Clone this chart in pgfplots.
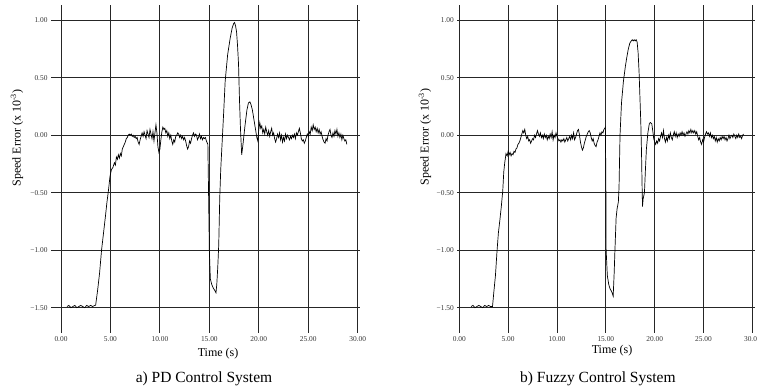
\documentclass[border=0pt]{standalone}
\usepackage{fontspec}
\setmainfont{Liberation Serif}
\usepackage{pgfplots}
\pgfplotsset{compat=1.18}
\pgfplotsset{
  speedaxis/.style={
    anchor=south west,
    y=115pt,
    xmin=0, xmax=30.25, ymin=-1.72, ymax=1.13,
    axis line style={draw=none},
    grid=major,
    major grid style={black!85, line width=0.9pt},
    xtick={0,5,10,15,20,25,30},
    xticklabels={0.00,5.00,10.00,15.00,20.00,25.00,30.00},
    ytick={-1.5,-1,-0.5,0,0.5,1},
    yticklabels={−1.50,−1.00,−0.50,0.00,0.50,1.00},
    xtick style={draw=none},
    ytick pos=left,
    tick align=outside,
    ytick style={black!85, line width=0.9pt},
    tick label style={font=\fontsize{7.4}{8}\selectfont, text=black!80},
    label style={font=\fontsize{12}{14}\selectfont},
    ylabel={Speed Error (x 10\textsuperscript{-3})},
    xlabel={Time (s)},
    clip=false,
  }
}
\begin{document}
\begin{tikzpicture}
\begin{axis}[speedaxis,
  at={(61pt,57pt)}, x=9.89pt,
  major tick length=10pt,
  xticklabel style={yshift=10pt},
  xlabel style={at={(axis description cs:0.525,-0.072)}, anchor=base},
  ylabel style={at={(axis description cs:-0.147,0.595)}, anchor=center, rotate=0},
]
\addplot[black, line width=0.7pt] coordinates {
(0.6,-1.49) (0.8,-1.48) (1.0,-1.50) (1.2,-1.49) (1.4,-1.48) (1.6,-1.50) (1.8,-1.49) (2.0,-1.48) (2.2,-1.49) (2.4,-1.50) (2.6,-1.48) (2.8,-1.49) (3.0,-1.48) (3.2,-1.49) (3.4,-1.48) (3.5,-1.48)
(3.7,-1.35) (3.9,-1.2) (4.1,-1.0) (4.3,-0.85) (4.5,-0.70) (4.65,-0.58) (4.8,-0.48) (4.95,-0.36) (5.1,-0.30) (5.25,-0.28) (5.4,-0.24) (5.5,-0.26) (5.6,-0.19) (5.7,-0.21) (5.8,-0.17) (5.9,-0.20) (6.0,-0.16) (6.1,-0.18) (6.2,-0.12) (6.3,-0.10) (6.4,-0.08) (6.5,-0.06) (6.6,-0.03) (6.7,-0.02) (6.8,0.00)
(6.9,0.01) (7.0,0.00) (7.1,0.01) (7.2,-0.01) (7.3,0.00) (7.4,-0.02) (7.5,-0.01) (7.6,-0.03) (7.7,-0.02) (7.8,-0.06) (7.9,-0.08) (8.0,-0.04) (8.1,-0.01) (8.2,0.02) (8.3,-0.01) (8.4,0.03) (8.5,0.00) (8.6,-0.03) (8.7,0.04) (8.8,0.01) (8.9,-0.02) (9.0,0.05) (9.1,0.01) (9.2,-0.03) (9.3,0.03) (9.4,-0.05) (9.5,0.02) (9.6,0.09) (9.7,0.02) (9.8,-0.10) (9.9,-0.15) (10.0,-0.12) (10.1,-0.04) (10.2,0.03) (10.3,0.07) (10.4,0.05) (10.5,0.06) (10.6,0.02) (10.7,0.04) (10.8,-0.01) (10.9,0.02) (11.0,-0.03) (11.1,0.00) (11.2,-0.05) (11.3,-0.08) (11.4,-0.04) (11.5,-0.06) (11.6,-0.01) (11.7,0.00) (11.8,0.02) (11.9,0.01) (12.0,-0.02) (12.1,0.00) (12.2,-0.03) (12.3,-0.01) (12.4,-0.04) (12.5,-0.02) (12.6,-0.05) (12.7,-0.09) (12.8,-0.12) (12.9,-0.10) (13.0,-0.05) (13.1,-0.07) (13.2,-0.03) (13.3,0.00) (13.4,0.02) (13.5,-0.01) (13.6,0.01) (13.7,0.00) (13.8,-0.04) (13.9,-0.02) (14.0,0.01) (14.1,-0.03) (14.2,-0.01) (14.3,-0.04) (14.4,-0.02) (14.5,-0.03) (14.6,-0.02) (14.7,-0.05) (14.85,-0.08)
(14.92,-0.5) (15.0,-1.0) (15.1,-1.25) (15.25,-1.30) (15.4,-1.33) (15.55,-1.35) (15.67,-1.37) (15.75,-1.30) (15.85,-1.15) (15.95,-0.95) (16.05,-0.55) (16.15,-0.3) (16.3,-0.05) (16.45,0.2) (16.6,0.47) (16.85,0.70) (17.1,0.84) (17.3,0.93) (17.45,0.97) (17.55,0.98) (17.65,0.95) (17.75,0.90) (17.85,0.78) (17.95,0.62) (18.05,0.30) (18.15,0.05) (18.27,-0.17) (18.4,-0.08) (18.6,0.08) (18.8,0.22) (18.95,0.28) (19.1,0.29) (19.2,0.27) (19.35,0.22) (19.5,0.14) (19.65,0.06) (19.8,-0.02) (19.9,-0.05) (20.0,0.05) (20.1,0.11) (20.2,0.06) (20.3,0.08)
(20.4,0.02) (20.5,0.05) (20.6,0.01) (20.7,0.07) (20.8,0.03) (20.9,0.00) (21.0,0.04) (21.1,-0.01) (21.2,0.03) (21.3,0.06) (21.4,0.00) (21.5,0.02) (21.6,-0.03) (21.7,-0.06) (21.8,-0.03) (21.9,0.01) (22.0,-0.02) (22.1,0.02) (22.2,-0.04) (22.3,0.00) (22.4,-0.06) (22.5,-0.02) (22.6,-0.05) (22.7,0.01) (22.8,-0.03) (22.9,0.00) (23.0,-0.02) (23.1,-0.04) (23.2,-0.01) (23.3,-0.03) (23.4,0.00) (23.5,-0.02) (23.6,0.01) (23.7,-0.03) (23.8,0.02) (23.9,0.00) (24.0,0.03) (24.1,0.06) (24.2,0.02) (24.3,-0.03) (24.4,-0.05) (24.5,-0.04) (24.6,-0.07) (24.7,-0.05) (24.8,-0.02) (24.9,0.01) (25.0,-0.01) (25.1,0.03) (25.2,0.01) (25.3,0.07) (25.4,0.04) (25.5,0.09) (25.6,0.05) (25.7,0.07) (25.8,0.03) (25.9,0.06) (26.0,0.02) (26.1,0.05) (26.2,0.01) (26.3,0.03) (26.4,-0.01) (26.5,-0.04) (26.6,-0.06) (26.7,-0.07) (26.8,-0.03) (26.9,-0.05) (27.0,0.00) (27.1,0.03) (27.2,0.05) (27.3,0.00) (27.4,-0.02) (27.5,0.02) (27.6,-0.01) (27.7,0.04) (27.8,0.01) (27.9,0.05) (28.0,-0.01) (28.1,0.02) (28.2,-0.02) (28.3,0.01) (28.4,-0.04) (28.5,0.00) (28.6,-0.03) (28.7,-0.05) (28.8,-0.04) (28.9,-0.08)
};
\node[anchor=base, font=\fontsize{15.5}{18}\selectfont] at (axis description cs:0.478,-0.152) {a) PD Control System};
\end{axis}
\begin{axis}[speedaxis,
  at={(459.3pt,57pt)}, x=9.77pt,
  major tick length=2pt,
  xticklabel style={yshift=2pt},
  xlabel style={at={(axis description cs:0.517,-0.062)}, anchor=base},
  ylabel style={at={(axis description cs:-0.116,0.598)}, anchor=center, rotate=0},
]
\addplot[black, line width=0.7pt] coordinates {
(1.2,-1.49) (1.4,-1.48) (1.6,-1.50) (1.8,-1.49) (2.0,-1.48) (2.2,-1.49) (2.4,-1.50) (2.6,-1.48) (2.8,-1.49) (3.0,-1.48) (3.2,-1.49) (3.4,-1.49)
(3.55,-1.35) (3.7,-1.22) (3.85,-1.02) (4.0,-0.85) (4.15,-0.74) (4.3,-0.62) (4.45,-0.48) (4.55,-0.32) (4.65,-0.24) (4.78,-0.16) (4.9,-0.18) (5.0,-0.14) (5.1,-0.17) (5.2,-0.15) (5.3,-0.18) (5.4,-0.16) (5.5,-0.17) (5.6,-0.14) (5.7,-0.15) (5.8,-0.12) (5.9,-0.11) (6.0,-0.08) (6.1,-0.07) (6.2,-0.05) (6.3,-0.02) (6.4,0.01) (6.5,0.04) (6.6,0.02) (6.7,0.05) (6.8,0.00) (6.9,-0.03) (7.0,-0.01) (7.1,-0.05) (7.2,-0.04) (7.3,-0.07) (7.4,-0.05) (7.5,-0.03) (7.6,-0.04) (7.7,0.00) (7.8,-0.02) (7.9,0.01) (8.0,0.04) (8.1,0.01) (8.2,-0.01) (8.3,0.02) (8.4,-0.02) (8.5,0.00) (8.6,-0.03) (8.7,0.01) (8.8,-0.02) (8.9,0.00) (9.0,-0.04) (9.1,-0.01) (9.2,-0.03) (9.3,0.01) (9.4,-0.02) (9.5,0.03) (9.6,-0.04) (9.7,0.00) (9.8,-0.02) (9.9,0.02) (10.0,-0.01) (10.1,-0.03) (10.2,-0.05) (10.3,-0.04) (10.4,-0.06) (10.5,-0.04) (10.6,-0.05) (10.7,-0.03) (10.8,-0.06) (10.9,-0.04) (11.0,-0.02) (11.1,-0.05) (11.2,-0.03) (11.3,-0.01) (11.4,-0.04) (11.5,0.00) (11.6,-0.03) (11.7,0.02) (11.8,-0.04) (11.9,-0.02) (12.0,0.01) (12.1,0.04) (12.2,0.05) (12.3,0.00) (12.4,-0.06) (12.5,-0.10) (12.6,-0.13) (12.7,-0.11) (12.8,-0.07) (12.9,-0.04) (13.0,-0.01) (13.1,0.01) (13.2,0.03) (13.3,0.04) (13.4,0.02) (13.5,-0.02) (13.6,-0.05) (13.7,-0.03) (13.8,-0.07) (13.9,-0.09) (14.0,-0.10) (14.1,-0.06) (14.2,-0.04) (14.3,-0.01) (14.4,0.02) (14.5,0.00) (14.6,0.03) (14.7,0.02) (14.8,0.05) (14.9,0.06) (14.95,0.07)
(15.0,-0.4) (15.03,-1.0) (15.15,-1.22) (15.3,-1.30) (15.45,-1.34) (15.6,-1.36) (15.75,-1.40) (15.85,-1.20) (15.93,-1.0) (16.05,-0.72) (16.15,-0.64) (16.28,-0.58) (16.35,-0.45) (16.45,0.0) (16.6,0.28) (16.8,0.47) (17.0,0.60) (17.15,0.68) (17.3,0.75) (17.45,0.80) (17.6,0.82) (17.7,0.83) (17.8,0.82) (17.9,0.83) (18.0,0.82) (18.1,0.83) (18.2,0.81) (18.3,0.72) (18.4,0.55) (18.5,0.30) (18.58,0.10) (18.65,-0.15) (18.7,-0.40) (18.75,-0.62) (18.82,-0.55) (18.9,-0.52) (18.95,-0.50) (19.05,-0.30) (19.15,-0.12) (19.3,0.02) (19.45,0.10) (19.55,0.11) (19.7,0.10) (19.8,0.04) (19.9,-0.03) (20.0,-0.06) (20.1,-0.08) (20.2,-0.05) (20.3,-0.07)
(20.4,-0.03) (20.5,-0.05) (20.6,-0.01) (20.7,0.02) (20.8,-0.02) (20.9,0.04) (21.0,-0.03) (21.1,-0.06) (21.2,-0.02) (21.3,-0.05) (21.4,0.00) (21.5,-0.03) (21.6,0.02) (21.7,-0.02) (21.8,-0.04) (21.9,0.00) (22.0,0.03) (22.1,-0.01) (22.2,0.02) (22.3,-0.02) (22.4,0.01) (22.5,-0.01) (22.6,0.02) (22.7,0.00) (22.8,0.03) (22.9,0.00) (23.0,0.02) (23.1,-0.01) (23.2,0.01) (23.3,0.03) (23.4,0.01) (23.5,0.04) (23.6,0.02) (23.7,0.05) (23.8,0.02) (23.9,0.04) (24.0,0.02) (24.1,0.04) (24.2,0.01) (24.3,0.03) (24.4,-0.01) (24.5,-0.04) (24.6,-0.02) (24.7,-0.06) (24.8,-0.08) (24.9,-0.04) (25.0,-0.06) (25.1,-0.02) (25.2,0.01) (25.3,0.03) (25.4,0.01) (25.5,0.02) (25.6,-0.01) (25.7,0.02) (25.8,-0.02) (25.9,0.00) (26.0,-0.03) (26.1,-0.01) (26.2,-0.05) (26.3,-0.02) (26.4,-0.06) (26.5,-0.03) (26.6,-0.05) (26.7,-0.02) (26.8,-0.04) (26.9,-0.01) (27.0,-0.03) (27.1,-0.01) (27.2,-0.04) (27.3,-0.02) (27.4,-0.05) (27.5,-0.03) (27.6,0.00) (27.7,-0.03) (27.8,-0.01) (27.9,0.00) (28.0,-0.02) (28.1,0.01) (28.2,-0.01) (28.3,-0.03) (28.4,0.00) (28.5,-0.02) (28.6,0.01) (28.7,-0.02) (28.8,-0.01) (28.9,-0.03) (29.0,0.00) (29.1,0.01)
};
\node[anchor=base, font=\fontsize{15.5}{18}\selectfont] at (axis description cs:0.469,-0.152) {b) Fuzzy Control System};
\end{axis}
\pgfresetboundingbox
\useasboundingbox (0pt,0pt) rectangle (757pt,390pt);
\end{tikzpicture}
\end{document}
